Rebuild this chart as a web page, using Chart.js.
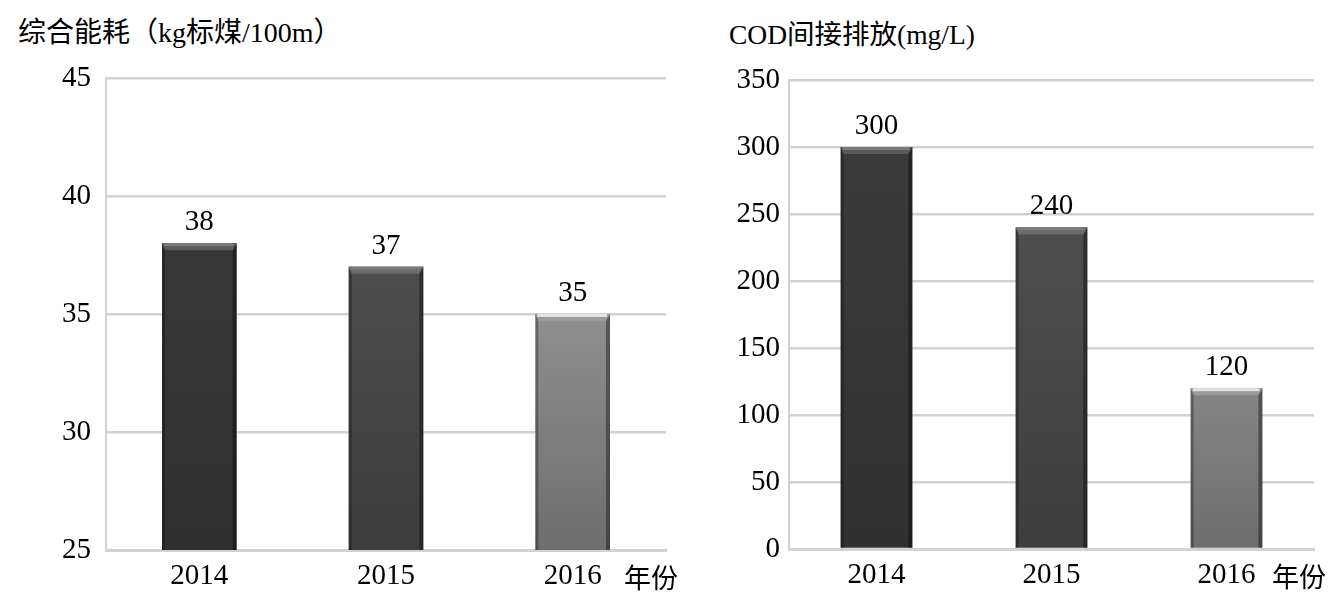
<!DOCTYPE html>
<html>
<head>
<meta charset="utf-8">
<script src="https://cdn.jsdelivr.net/npm/chart.js@4.4.1/dist/chart.umd.min.js"></script>
<style>
  body { margin: 0; background: #fff; width: 1339px; height: 606px; position: relative; overflow: hidden; }
  .box { position: absolute; top: 0; }
  .title { position: absolute; font-family: "Liberation Serif", "Noto Sans CJK SC", serif; font-size: 28px; color: #000; white-space: nowrap; line-height: 1; }
</style>
</head>
<body>
<div class="title" style="left:18px; top:19px;">综合能耗（kg标煤/100m）</div>
<div class="title" style="left:729px; top:21px; font-size:27.5px;">COD间接排放(mg/L)</div>
<div class="box" style="left:0px;"><canvas id="energyChart" width="680" height="606"></canvas></div>
<div class="box" style="left:700px;"><canvas id="codChart" width="639" height="606"></canvas></div>
<script>
// datos
const years = ['2014', '2015', '2016'];
const energyValues = [38, 37, 35];
const codValues = [300, 240, 120];
// min, max, paso de cada eje y
const energyAxis = [25, 45, 5];
const codAxis = [0, 350, 50];
const unitLabel = '年份';

Chart.defaults.font.family = '"Liberation Serif", "Noto Sans CJK SC", serif';
Chart.defaults.color = '#000';

//relleno de cada barra, la ultima con degradado claro
function barFill(context) {
    const chart = context.chart;
    const area = chart.chartArea;
    if (!area) return '#444';
    const i = context.dataIndex;
    const g = chart.ctx.createLinearGradient(0, area.top, 0, area.bottom);
    if (i === 0) {
        g.addColorStop(0, '#3c3c3c');
        g.addColorStop(1, '#303030');
    } else if (i === 1) {
        g.addColorStop(0, '#555555');
        g.addColorStop(1, '#3e3e3e');
    } else {
        g.addColorStop(0, '#b0b0b0');
        g.addColorStop(1, '#6e6e6e');
    }
    return g;
}

//bisel de las barras, etiquetas de valor y "年份"
const barDecor = {
    id: 'barDecor',
    afterDatasetsDraw(chart) {
        const ctx = chart.ctx;
        const area = chart.chartArea;
        const meta = chart.getDatasetMeta(0);
        const values = chart.data.datasets[0].data;
        ctx.save();
        meta.data.forEach((bar, i) => {
            const left = bar.x - bar.width / 2;
            const right = bar.x + bar.width / 2;
            const top = bar.y;
            const bottom = Math.min(bar.base, area.bottom); //el eje no empieza en 0
            ctx.fillStyle = 'rgba(0,0,0,0.28)';
            ctx.fillRect(left, top, 3, bottom - top);
            ctx.fillStyle = 'rgba(0,0,0,0.38)';
            ctx.fillRect(right - 4, top, 4, bottom - top);
            const light = i === 2;
            ctx.fillStyle = light ? '#9a9a9a' : (i === 0 ? '#5a5a5a' : '#6a6a6a');
            ctx.beginPath();
            ctx.moveTo(left, top);
            ctx.lineTo(right, top);
            ctx.lineTo(right - 4, top + 7);
            ctx.lineTo(left + 3, top + 7);
            ctx.closePath();
            ctx.fill();
            ctx.fillStyle = light ? '#e2e2e2' : '#7a7a7a';
            ctx.fillRect(left + 2, top, bar.width - 5, 3);

            ctx.fillStyle = '#000';
            ctx.font = '29px "Liberation Serif"';
            ctx.textAlign = 'center';
            ctx.textBaseline = 'alphabetic';
            ctx.fillText(String(values[i]), bar.x, top - 13);
        });
        const xs = chart.scales.x;
        ctx.font = '27px "Noto Sans CJK SC"';
        ctx.textAlign = 'left';
        ctx.textBaseline = 'middle';
        ctx.fillText(unitLabel, xs.right - 42, xs.top + 28);
        ctx.restore();
    }
};

function makeChart(id, values, axis, cfg) {
    const ctx = document.getElementById(id).getContext('2d');
    return new Chart(ctx, {
        type: 'bar',
        data: {
            labels: years,
            datasets: [{
                data: values,
                backgroundColor: barFill,
                borderWidth: 0,
                barPercentage: cfg.barPct,
                categoryPercentage: 1
            }]
        },
        options: {
            responsive: false,
            animation: false,
            devicePixelRatio: 1,
            layout: { padding: { top: cfg.top, right: cfg.right, left: 0, bottom: 0 } },
            plugins: { legend: { display: false }, tooltip: { enabled: false } },
            scales: {
                x: {
                    grid: { display: false, drawTicks: false },
                    border: { display: true, color: '#d2d2d2', width: 3 },
                    ticks: { font: { size: 29 }, padding: 9, color: '#000' },
                    afterFit(scale) { scale.height = cfg.xHeight; }
                },
                y: {
                    min: axis[0],
                    max: axis[1],
                    ticks: { stepSize: axis[2], font: { size: 29 }, padding: cfg.tickPad, color: '#000' },
                    grid: { color: '#d2d2d2', lineWidth: 2.5, drawTicks: false },
                    border: { display: true, color: '#d2d2d2', width: 2 },
                    afterFit(scale) { scale.width = cfg.yWidth; }
                }
            }
        },
        plugins: [barDecor]
    });
}

makeChart('energyChart', energyValues, energyAxis, { top: 78, right: 14, xHeight: 56, yWidth: 106, tickPad: 15, barPct: 0.4 });
makeChart('codChart', codValues, codAxis, { top: 80, right: 25, xHeight: 57, yWidth: 89, tickPad: 9, barPct: 0.41 });
</script>
</body>
</html>
